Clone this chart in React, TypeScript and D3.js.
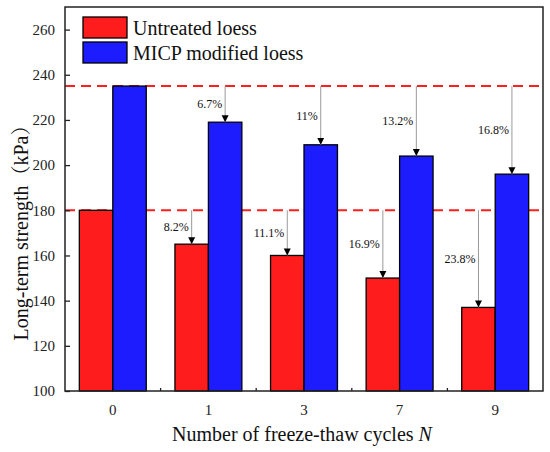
import React, { useRef, useEffect } from "react";
import * as d3 from "d3";

// freeze-thaw cycles and long-term strength (kPa)
const cycles = ["0", "1", "3", "7", "9"];
const untreated = [180, 165, 160, 150, 137];
const micp = [235, 219, 209, 204, 196];
const untreatedDrop = ["", "8.2%", "11.1%", "16.9%", "23.8%"];
const micpDrop = ["", "6.7%", "11%", "13.2%", "16.8%"];
const yTicks = [100, 120, 140, 160, 180, 200, 220, 240, 260];
const refLines = [235, 180];

const W = 550;
const H = 452;
const margin = { top: 7, right: 7, bottom: 61, left: 65 };
const RED = "#ff1c1c";
const BLUE = "#1c1cff";
const FONT = "Liberation Serif, Times New Roman, serif";
const FONT_CJK = "Liberation Serif, Noto Serif CJK SC, Noto Sans CJK SC, serif";

const App: React.FC = () => {
  const svgRef = useRef<SVGSVGElement>(null);

  useEffect(() => {
    if (!svgRef.current) return;
    const svg = d3.select(svgRef.current);
    svg.selectAll("*").remove();

    const iw = W - margin.left - margin.right;
    const ih = H - margin.top - margin.bottom;

    const x = d3.scaleBand().domain(cycles).range([0, iw]).padding(0);
    const y = d3.scaleLinear().domain([100, 270]).range([ih, 0]);
    const barW = x.bandwidth() * 0.35;

    const defs = svg.append("defs");
    defs
      .append("marker")
      .attr("id", "arrowHead")
      .attr("viewBox", "0 0 10 10")
      .attr("refX", 10)
      .attr("refY", 5)
      .attr("markerWidth", 7)
      .attr("markerHeight", 9)
      .attr("markerUnits", "userSpaceOnUse")
      .attr("orient", "auto")
      .append("path")
      .attr("d", "M0,0 L10,5 L0,10 Z")
      .attr("fill", "#000");

    const g = svg
      .append("g")
      .attr("transform", `translate(${margin.left},${margin.top})`);

    // reference lines behind bars
    g.selectAll("line.ref")
      .data(refLines)
      .enter()
      .append("line")
      .attr("x1", 0)
      .attr("x2", iw)
      .attr("y1", (d) => y(d))
      .attr("y2", (d) => y(d))
      .attr("stroke", "#ff2020")
      .attr("stroke-width", 2)
      .attr("stroke-dasharray", "10,6");

    // bars
    const groups = g
      .selectAll("g.grp")
      .data(cycles)
      .enter()
      .append("g")
      .attr("transform", (d) => `translate(${(x(d) || 0) + x.bandwidth() / 2},0)`);

    groups
      .append("rect")
      .attr("x", -barW)
      .attr("width", barW)
      .attr("y", (_, i) => y(untreated[i]))
      .attr("height", (_, i) => ih - y(untreated[i]))
      .attr("fill", RED)
      .attr("stroke", "#000")
      .attr("stroke-width", 1.3);

    groups
      .append("rect")
      .attr("x", 0)
      .attr("width", barW)
      .attr("y", (_, i) => y(micp[i]))
      .attr("height", (_, i) => ih - y(micp[i]))
      .attr("fill", BLUE)
      .attr("stroke", "#000")
      .attr("stroke-width", 1.3);

    // arrows with reduction labels
    const drawArrows = (
      values: number[],
      labels: string[],
      base: number,
      offset: number
    ) => {
      values.forEach((v, i) => {
        if (!labels[i]) return;
        const cx = (x(cycles[i]) || 0) + x.bandwidth() / 2 + offset;
        g.append("line")
          .attr("x1", cx)
          .attr("x2", cx)
          .attr("y1", y(base))
          .attr("y2", y(v))
          .attr("stroke", "#9a9a9a")
          .attr("stroke-width", 1)
          .attr("marker-end", "url(#arrowHead)");
        g.append("text")
          .attr("x", cx - 3)
          .attr("y", (y(base) + y(v)) / 2)
          .attr("dy", "0.35em")
          .attr("text-anchor", "end")
          .style("font-family", FONT)
          .style("font-size", "12px")
          .attr("fill", "#111")
          .text(labels[i]);
      });
    };
    drawArrows(untreated, untreatedDrop, 180, -barW / 2);
    drawArrows(micp, micpDrop, 235, barW / 2);

    // frame
    g.append("rect")
      .attr("width", iw)
      .attr("height", ih)
      .attr("fill", "none")
      .attr("stroke", "#222")
      .attr("stroke-width", 1.5);

    // y axis
    const yAxis = g
      .append("g")
      .call(d3.axisLeft(y).tickValues(yTicks).tickSizeInner(-5).tickSizeOuter(0).tickPadding(10));
    yAxis.select(".domain").remove();
    yAxis.selectAll("line").attr("stroke", "#222").attr("stroke-width", 1.3);
    yAxis
      .selectAll("text")
      .style("font-family", FONT)
      .style("font-size", "15px")
      .attr("fill", "#222");

    // x axis: labels under categories, small inward ticks between groups
    const xAxis = g
      .append("g")
      .attr("transform", `translate(0,${ih})`)
      .call(d3.axisBottom(x).tickSize(0).tickPadding(13));
    xAxis.select(".domain").remove();
    xAxis
      .selectAll("text")
      .style("font-family", FONT)
      .style("font-size", "15px")
      .attr("fill", "#222");
    g.selectAll("line.xminor")
      .data(cycles.slice(1))
      .enter()
      .append("line")
      .attr("x1", (d) => x(d) || 0)
      .attr("x2", (d) => x(d) || 0)
      .attr("y1", ih)
      .attr("y2", ih - 3)
      .attr("stroke", "#222")
      .attr("stroke-width", 1.3);

    // axis titles
    const xt = svg
      .append("text")
      .attr("x", 302)
      .attr("y", 441)
      .attr("text-anchor", "middle")
      .style("font-family", FONT)
      .style("font-size", "20px")
      .attr("fill", "#111");
    xt.append("tspan").text("Number of freeze-thaw cycles ");
    xt.append("tspan").style("font-style", "italic").text("N");

    svg
      .append("text")
      .attr("transform", "translate(28,228) rotate(-90)")
      .attr("text-anchor", "middle")
      .style("font-family", FONT_CJK)
      .style("font-size", "20px")
      .attr("fill", "#111")
      .text("Long-term strength（kPa）");

    // legend
    const legend = [
      { name: "Untreated loess", color: RED },
      { name: "MICP modified loess", color: BLUE },
    ];
    const lg = svg.append("g").attr("transform", "translate(83,17)");
    legend.forEach((item, i) => {
      lg.append("rect")
        .attr("x", 0)
        .attr("y", i * 25)
        .attr("width", 44)
        .attr("height", 21)
        .attr("fill", item.color)
        .attr("stroke", "#000")
        .attr("stroke-width", 1.3);
      lg.append("text")
        .attr("x", 50)
        .attr("y", i * 25 + 11)
        .attr("dy", "0.35em")
        .style("font-family", FONT)
        .style("font-size", "20px")
        .attr("fill", "#111")
        .text(item.name);
    });
  }, []);

  return (
    <div style={{ position: "absolute", left: 0, top: 0 }}>
      <svg ref={svgRef} width={W} height={H} style={{ display: "block", background: "#fff" }} />
    </div>
  );
};

export default App;
